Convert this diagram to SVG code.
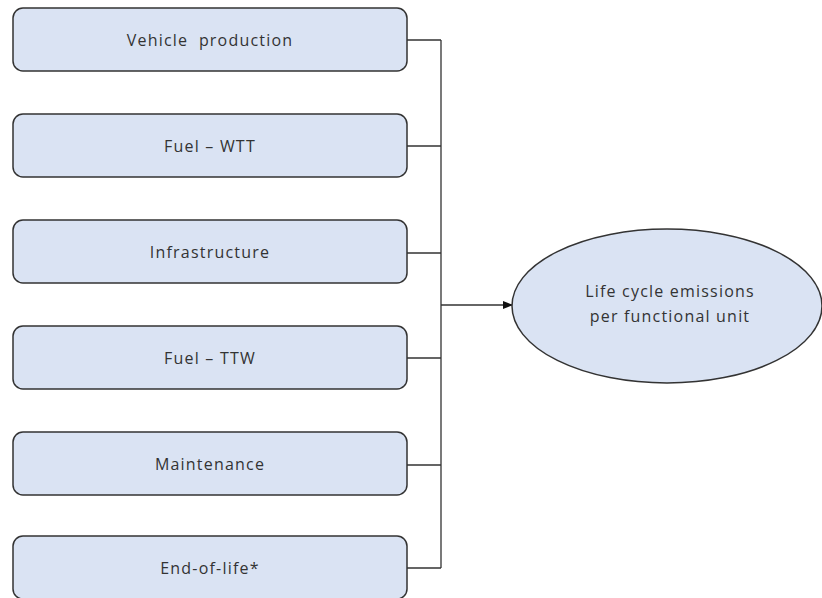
<svg xmlns="http://www.w3.org/2000/svg" width="822" height="598" viewBox="0 0 822 598">
<style>
.box{fill:#dae3f3;stroke:#333;stroke-width:1.5}
.t{font-family:"Open Sans","Liberation Sans",sans-serif;font-size:16px;letter-spacing:1.2px;fill:#333;text-anchor:middle}
.c{fill:none;stroke:#333;stroke-width:1.3}
</style>
<defs>
<marker id="ah" markerWidth="10" markerHeight="8" refX="9" refY="4" orient="auto" markerUnits="userSpaceOnUse">
<path d="M0,0 L10,4 L0,8 Z" fill="#111"/>
</marker>
</defs>
<g id="connectors">
<path class="c" d="M407,40 H441 M407,146 H441 M407,253 H441 M407,358 H441 M407,465 H441 M407,568 H441 M441,40 V568"/>
<path class="c" d="M441,305 H512" marker-end="url(#ah)"/>
</g>
<g id="n1"><rect class="box" x="13" y="8" width="394" height="63" rx="10"/><text class="t" x="210" y="46">Vehicle&#160; production</text></g>
<g id="n2"><rect class="box" x="13" y="114" width="394" height="63" rx="10"/><text class="t" x="210" y="152">Fuel – WTT</text></g>
<g id="n3"><rect class="box" x="13" y="220" width="394" height="63" rx="10"/><text class="t" x="210" y="258">Infrastructure</text></g>
<g id="n4"><rect class="box" x="13" y="326" width="394" height="63" rx="10"/><text class="t" x="210" y="364">Fuel – TTW</text></g>
<g id="n5"><rect class="box" x="13" y="432" width="394" height="63" rx="10"/><text class="t" x="210" y="470">Maintenance</text></g>
<g id="n6"><rect class="box" x="13" y="536" width="394" height="63" rx="10"/><text class="t" x="210" y="574">End-of-life*</text></g>
<g id="n7"><ellipse class="box" cx="667" cy="306" rx="155" ry="77"/><text class="t" x="670" y="297">Life cycle emissions</text><text class="t" x="670" y="322">per functional unit</text></g>
</svg>
